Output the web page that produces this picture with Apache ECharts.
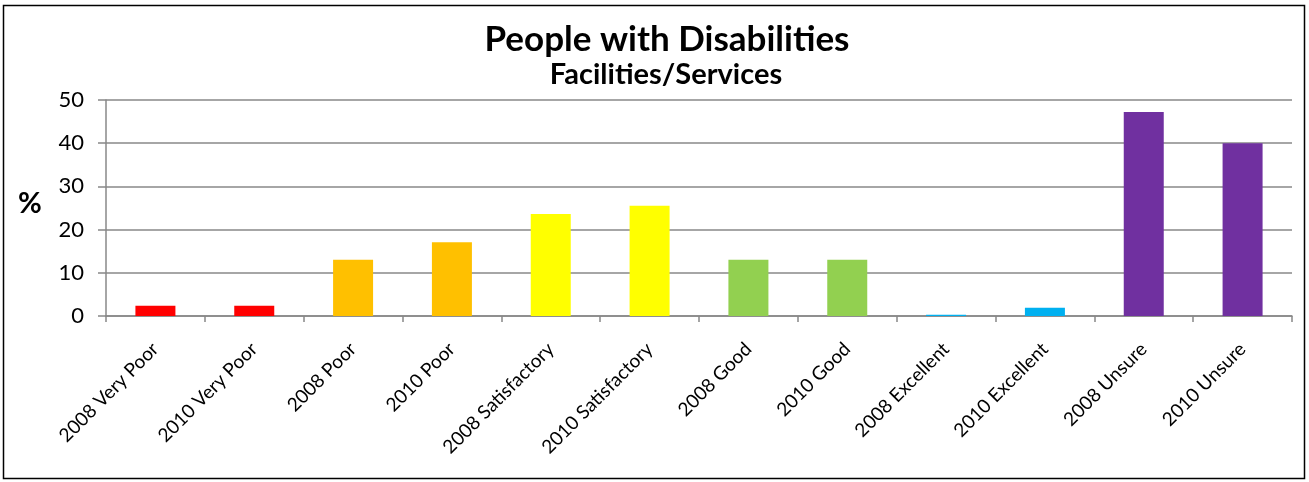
<!DOCTYPE html>
<html><head><meta charset="utf-8">
<script src="https://cdn.jsdelivr.net/npm/echarts@6/dist/echarts.min.js"></script>
<style>html,body{margin:0;padding:0;background:#fff}#c{width:1309px;height:482px}</style>
</head><body><div id="c"></div>
<script>
const categories = ["2008 Very Poor","2010 Very Poor","2008 Poor","2010 Poor","2008 Satisfactory","2010 Satisfactory","2008 Good","2010 Good","2008 Excellent","2010 Excellent","2008 Unsure","2010 Unsure"];
const values = [2.4, 2.4, 13.0, 17.1, 23.6, 25.5, 13.0, 13.0, 0.3, 1.9, 47.2, 40.0];
const barColors = ["#FF0000","#FF0000","#FFC000","#FFC000","#FFFF00","#FFFF00","#92D050","#92D050","#00B0F0","#00B0F0","#7030A0","#7030A0"];
const yTicks = [0,10,20,30,40,50];
const titleText = "People with Disabilities";
const subtitleText = "Facilities/Services";
const FONT = "Lato";
const chart = echarts.init(document.getElementById('c'));
chart.setOption({
  animation:false,
  title:[
    {text:"%", left:13, top:184, textStyle:{fontFamily:FONT,fontWeight:'bold',fontSize:29,color:'#000'}}
  ],
  graphic:[
    {type:'rect',shape:{x:3.5,y:5.5,width:1301,height:473},style:{fill:'none',stroke:'#000',lineWidth:1.5}},
    {type:'text',x:667,y:40,style:{text:titleText,textAlign:'center',textVerticalAlign:'middle',fontFamily:FONT,fontWeight:'bold',fontSize:35,fill:'#000'}},
    {type:'text',x:666,y:75,style:{text:subtitleText,textAlign:'center',textVerticalAlign:'middle',fontFamily:FONT,fontWeight:'bold',fontSize:29,fill:'#000'}}
  ],
  grid:{left:106,right:17,top:100,bottom:166,containLabel:false},
  xAxis:{type:'category',data:categories,boundaryGap:true,
    axisLine:{lineStyle:{color:'#888',width:1.5}},
    axisTick:{show:true,length:6,lineStyle:{color:'#888',width:1.5}},
    axisLabel:{rotate:45,interval:0,fontFamily:FONT,fontSize:19,color:'#000',margin:30}},
  yAxis:{type:'value',min:yTicks[0],max:yTicks[yTicks.length-1],interval:10,
    axisLine:{show:true,lineStyle:{color:'#888',width:1.5}},
    axisTick:{show:true,length:8,lineStyle:{color:'#888',width:1.5}},
    axisLabel:{fontFamily:FONT,fontSize:22,color:'#000',margin:22},
    splitLine:{lineStyle:{color:'#888',width:1.5}}},
  series:[{type:'bar',barWidth:40,
    data:values.map((v,i)=>({value:v,itemStyle:{color:barColors[i]}}))}]
});
</script></body></html>
